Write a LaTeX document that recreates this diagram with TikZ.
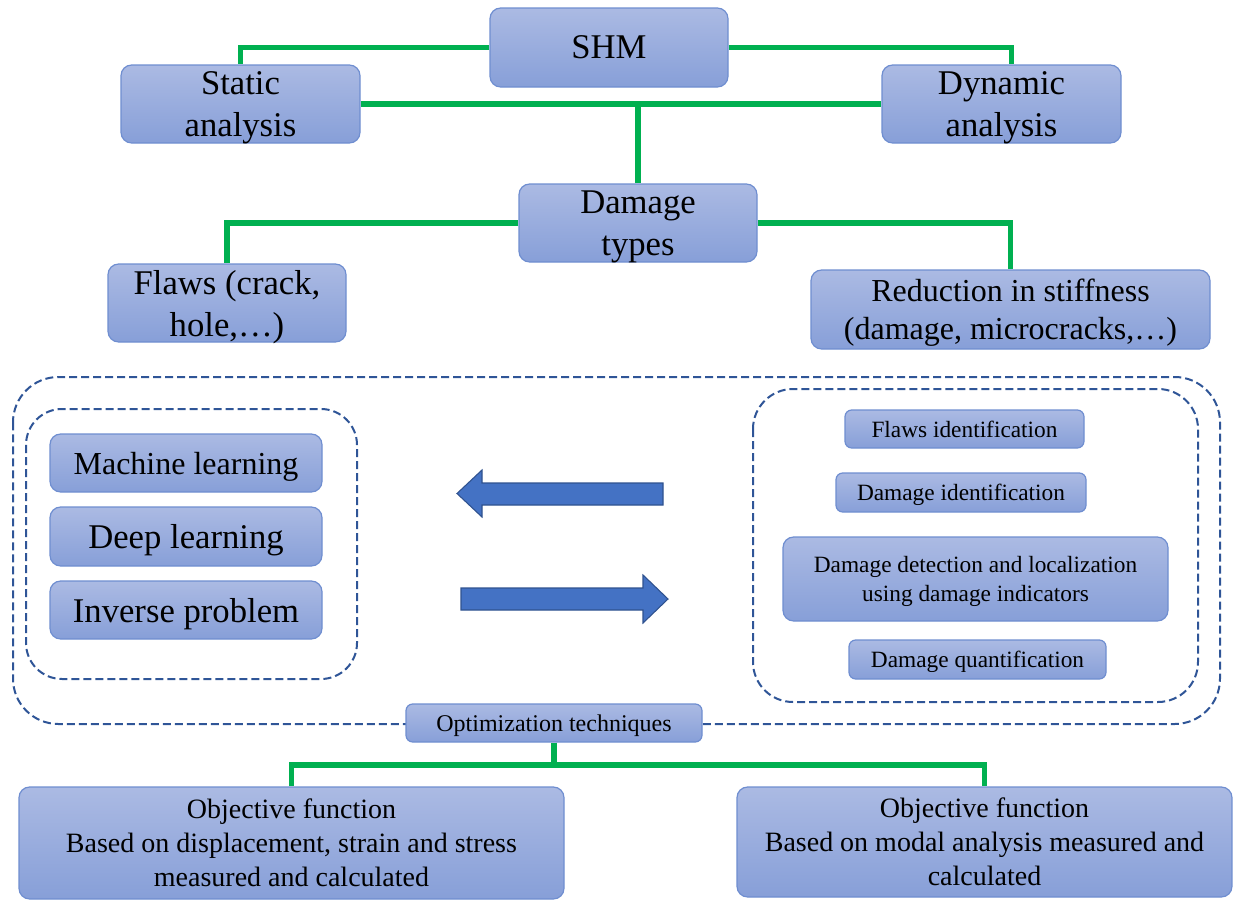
\documentclass[tikz,border=0pt]{standalone}
\usepackage{fontspec}
\setmainfont{Liberation Serif}
\definecolor{boxtop}{HTML}{ABBAE3}
\definecolor{boxbot}{HTML}{879FD8}
\definecolor{boxline}{HTML}{6F8ED0}
\definecolor{linkgreen}{HTML}{00B050}
\definecolor{frameblue}{HTML}{2F5597}
\definecolor{arrowfill}{HTML}{4472C4}
\definecolor{arrowline}{HTML}{2F528F}
\newcommand\txtbig{\fontsize{26}{31.5}\selectfont}
\newcommand\txtmid{\fontsize{24}{28.5}\selectfont}
\newcommand\txtobj{\fontsize{21}{25.5}\selectfont}
\newcommand\txtsmall{\fontsize{17.5}{21.75}\selectfont}
\begin{document}
\begin{tikzpicture}[x=0.75pt,y=-0.75pt,
  box/.style 2 args={draw=boxline, line width=0.9pt, top color=boxtop, bottom color=boxbot,
    rounded corners=8pt, minimum width={#1*0.75pt}, minimum height={#2*0.75pt},
    inner sep=0pt, align=center, text=black, text depth=0pt},
  sbox/.style 2 args={box={#1}{#2}, rounded corners=5pt, font=\txtsmall},
  link/.style={draw=linkgreen, line width=4pt},
  frame/.style={draw=frameblue, line width=1.5pt, dash pattern=on 6pt off 3pt},
  bigarrow/.style={fill=arrowfill, draw=arrowline, line width=0.8pt, line join=miter}]
\useasboundingbox (0,0) rectangle (1233,900);

% dashed groupings
\draw[frame, rounded corners=34pt] (13,377) rectangle (1220,724);
\draw[frame, rounded corners=27pt] (26,409) rectangle (357,679);
\draw[frame, rounded corners=30pt] (753,389) rectangle (1198,702);

% top hierarchy
\node[box={238}{79}, font=\txtbig] (shm) at (609,47.5) {SHM};
\node[box={239}{78}, font=\txtbig] (static) at (240.5,104) {Static\\analysis};
\node[box={239}{78}, font=\txtbig] (dynamic) at (1001.5,104) {Dynamic\\analysis};
\node[box={238}{78}, font=\txtbig] (dtypes) at (638,223) {Damage\\types};
\node[box={238}{78}, font=\txtbig] (flaws) at (227,303) {Flaws (crack,\\hole,…)};
\node[box={399}{79}, font=\txtmid] (stiff) at (1010.5,309.5) {Reduction in stiffness\\(damage, microcracks,…)};

% methods
\node[box={272}{58}, font=\txtmid] (ml) at (186,463) {Machine learning};
\node[box={272}{59}, font=\txtbig] (dl) at (186,536.5) {Deep learning};
\node[box={272}{58}, font=\txtbig] (ip) at (186,610) {Inverse problem};

% tasks
\node[sbox={239}{38}] (fid) at (964.5,429) {Flaws identification};
\node[sbox={250}{39}] (did) at (961,492.5) {Damage identification};
\node[sbox={385}{84}, rounded corners=8pt] (ddl) at (975.5,579) {Damage detection and localization\\using damage indicators};
\node[sbox={257}{39}] (dq) at (977.5,659.5) {Damage quantification};

% exchange arrows
\draw[bigarrow] (663,483) -- (482,483) -- (482,470) -- (457,493.5) -- (482,517) -- (482,505) -- (663,505) -- cycle;
\draw[bigarrow] (461,588) -- (643,588) -- (643,575) -- (668,599) -- (643,623) -- (643,610) -- (461,610) -- cycle;

% optimization and objective functions
\node[sbox={296}{38}, font=\fontsize{18}{22}\selectfont] (opt) at (554,723) {Optimization techniques};
\node[box={545}{112}, font=\txtobj] (objL) at (291.5,843) {Objective function\\Based on displacement, strain and stress\\measured and calculated};
\node[box={495}{110}, font=\txtobj] (objR) at (984.5,842) {Objective function\\Based on modal analysis measured and\\calculated};

% connectors
\coordinate (dynin) at ([xshift=7.5pt]dynamic.north);
\coordinate (bus) at (554,765);
\draw[link] (shm.west) -| (static.north);
\draw[link] (shm.east) -| (dynin);
\draw[link] (static.east) -- (dynamic.west);
\draw[link] (dtypes.north) -- (dtypes.north |- static.east);
\draw[link] (dtypes.west) -| (flaws.north);
\draw[link] (dtypes.east) -| (stiff.north);
\draw[link] (opt.south) -- (bus);
\draw[link] (objL.north) |- (bus) -| (objR.north);
\end{tikzpicture}
\end{document}
